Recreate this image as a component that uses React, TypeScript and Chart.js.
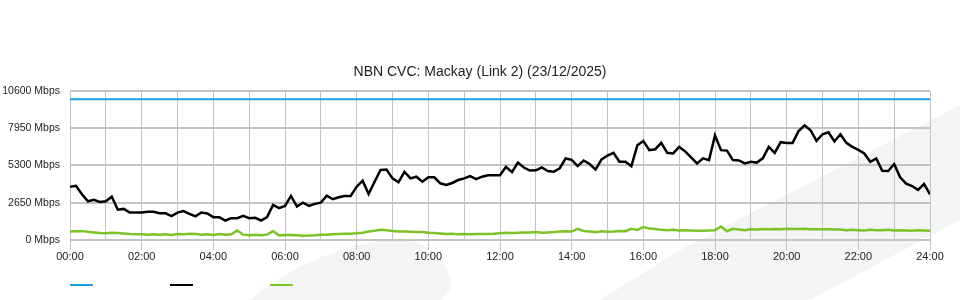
import { useEffect, useRef } from 'react';
import { Chart, registerables } from 'chart.js';

Chart.register(...registerables);

const TITLE = 'NBN CVC: Mackay (Link 2) (23/12/2025)';
const SLOT_MINUTES = 10;

// Link capacity (Mbps) at start and end of day
const CAPACITY_HOURS = [0, 24];
const CAPACITY = [10000, 10000];

// Download traffic (Mbps), one value every 10 minutes from 00:00 to 24:00
const DOWNLOAD = [
  3790, 3850, 3250, 2750, 2850, 2700,
  2750, 3080, 2150, 2210, 1950, 1950,
  1950, 2000, 2000, 1900, 1900, 1700,
  1950, 2050, 1860, 1680, 1950, 1880,
  1625, 1625, 1385, 1550, 1550, 1715,
  1550, 1580, 1385, 1625, 2495, 2262,
  2424, 3131, 2375, 2657, 2424, 2565,
  2657, 3150, 2897, 3039, 3131, 3131,
  3788, 4212, 3272, 4141, 4970, 5000,
  4380, 4100, 4848, 4380, 4494, 4141,
  4450, 4450, 4028, 3908, 4050, 4260,
  4380, 4544, 4330, 4500, 4600, 4600,
  4600, 5202, 4820, 5500, 5150, 4930,
  4950, 5150, 4900, 4850, 5100, 5795,
  5700, 5251, 5650, 5400, 5000, 5724,
  6000, 6192, 5555, 5555, 5251, 6735,
  7040, 6381, 6450, 6900, 6192, 6150,
  6616, 6300, 5865, 5440, 5800, 5675,
  7441, 6381, 6350, 5675, 5650, 5440,
  5555, 5500, 5800, 6616, 6192, 6950,
  6900, 6900, 7746, 8148, 7794, 7040,
  7512, 7650, 7000, 7512, 6900, 6616,
  6400, 6145, 5555, 5795, 4920, 4900,
  5400, 4450, 4000, 3837, 3555, 3979,
  3250,
];

// Upload traffic (Mbps), one value every 10 minutes from 00:00 to 24:00
const UPLOAD = [
  600, 620, 630, 580, 540, 500,
  480, 520, 500, 460, 420, 400,
  400, 380, 410, 380, 400, 350,
  420, 400, 450, 420, 380, 400,
  350, 420, 380, 400, 680, 380,
  330, 380, 330, 380, 620, 330,
  360, 350, 330, 310, 320, 340,
  380, 380, 400, 420, 440, 450,
  480, 520, 600, 660, 720, 700,
  640, 600, 600, 580, 560, 560,
  520, 500, 460, 420, 450, 400,
  420, 400, 420, 430, 430, 440,
  480, 520, 500, 520, 540, 540,
  560, 520, 540, 560, 600, 620,
  600, 800, 640, 600, 560, 620,
  580, 600, 640, 620, 800, 720,
  920, 820, 780, 720, 700, 720,
  680, 700, 680, 660, 660, 680,
  700, 960, 620, 800, 740, 700,
  760, 740, 780, 760, 780, 770,
  800, 780, 780, 800, 760, 760,
  770, 760, 740, 740, 700, 720,
  700, 680, 720, 700, 700, 720,
  680, 700, 680, 660, 700, 680,
  650,
];

const Y_MAX = 10600;
const Y_STEP = 2650;
const X_TICK_LABELS = [
  '00:00', '02:00', '04:00', '06:00', '08:00', '10:00', '12:00',
  '14:00', '16:00', '18:00', '20:00', '22:00', '24:00',
];

const COLORS = { capacity: '#1a9fdd', download: '#000000', upload: '#7cc229' };
const FONT_FAMILY = '"Liberation Sans", Arial, Helvetica, sans-serif';
const GRID = '#c4c4c4';

const toPoints = (values: number[]) =>
  values.map((v, i) => ({ x: (i * SLOT_MINUTES) / 60, y: v }));

const watermark = {
  id: 'watermark',
  beforeDraw(chart: any) {
    const { ctx } = chart;
    ctx.save();
    ctx.fillStyle = '#f3f4f6';
    ctx.beginPath();
    ctx.moveTo(250, 300);
    ctx.quadraticCurveTo(315, 246, 400, 238);
    ctx.quadraticCurveTo(446, 246, 452, 287);
    ctx.lineTo(440, 300);
    ctx.closePath();
    ctx.fill();
    ctx.beginPath();
    ctx.moveTo(600, 300);
    ctx.lineTo(680, 250);
    ctx.lineTo(960, 105);
    ctx.lineTo(960, 220);
    ctx.lineTo(810, 300);
    ctx.closePath();
    ctx.fill();
    ctx.restore();
  },
};

export default function App() {
  const canvasRef = useRef<HTMLCanvasElement | null>(null);

  useEffect(() => {
    document.body.style.margin = '0';
    const canvas = canvasRef.current;
    if (!canvas) return;
    const chart = new Chart(canvas, {
      type: 'line',
      data: {
        datasets: [
          {
            label: 'Capacity',
            data: CAPACITY_HOURS.map((h, i) => ({ x: h, y: CAPACITY[i] })),
            borderColor: COLORS.capacity,
            backgroundColor: COLORS.capacity,
            borderWidth: 2,
          },
          {
            label: 'Download',
            data: toPoints(DOWNLOAD),
            borderColor: COLORS.download,
            backgroundColor: COLORS.download,
            borderWidth: 2.5,
          },
          {
            label: 'Upload',
            data: toPoints(UPLOAD),
            borderColor: COLORS.upload,
            backgroundColor: COLORS.upload,
            borderWidth: 2.5,
          },
        ],
      },
      options: {
        animation: false,
        responsive: false,
        devicePixelRatio: 1,
        layout: { padding: 0 },
        elements: { point: { radius: 0 }, line: { tension: 0 } },
        plugins: {
          title: {
            display: true,
            text: TITLE,
            color: '#222',
            font: { family: FONT_FAMILY, size: 14, weight: 'normal' },
            padding: { top: 64, bottom: 10 },
          },
          legend: {
            position: 'bottom',
            align: 'start',
            fullSize: false,
            labels: {
              boxWidth: 23,
              boxHeight: 2,
              padding: 0,
              font: { family: FONT_FAMILY, size: 10 },
              generateLabels: (c: any) =>
                c.data.datasets.map((ds: any, i: number) => ({
                  text: '\u2003'.repeat(7) + '\u2009',
                  fillStyle: ds.borderColor,
                  strokeStyle: ds.borderColor,
                  lineWidth: 0,
                  hidden: false,
                  datasetIndex: i,
                })),
            },
          },
          tooltip: { enabled: false },
        },
        scales: {
          x: {
            type: 'linear',
            min: 0,
            max: 24,
            afterFit: (s: any) => {
              s.height = 40;
            },
            border: { display: false },
            grid: {
              color: GRID,
              lineWidth: 1,
              drawTicks: true,
              tickLength: 10,
              tickColor: (ctx: any) =>
                ctx.tick && ctx.tick.value % 2 === 0 ? GRID : 'rgba(0,0,0,0)',
            },
            ticks: {
              stepSize: 1,
              autoSkip: false,
              maxRotation: 0,
              padding: 0,
              color: '#222',
              font: { family: FONT_FAMILY, size: 11 },
              callback: (v: any) =>
                Number(v) % 2 === 0 ? X_TICK_LABELS[Number(v) / 2] : '',
            },
          },
          y: {
            min: 0,
            max: Y_MAX,
            afterFit: (s: any) => {
              s.width = 70;
            },
            border: { display: false },
            grid: { color: GRID, lineWidth: 2, drawTicks: false },
            ticks: {
              stepSize: Y_STEP,
              padding: 10,
              color: '#222',
              font: { family: FONT_FAMILY, size: 10.5 },
              callback: (v: any) => `${v} Mbps`,
            },
          },
          yRight: {
            position: 'right',
            display: true,
            afterFit: (s: any) => {
              s.width = 30;
            },
            border: { display: false },
            grid: { display: false, drawTicks: false },
            ticks: { display: false },
          },
        },
      },
      plugins: [watermark],
    });
    return () => chart.destroy();
  }, []);

  return (
    <div style={{ width: 960, height: 300, position: 'relative', background: '#fff' }}>
      <canvas ref={canvasRef} width={960} height={300} />
    </div>
  );
}
